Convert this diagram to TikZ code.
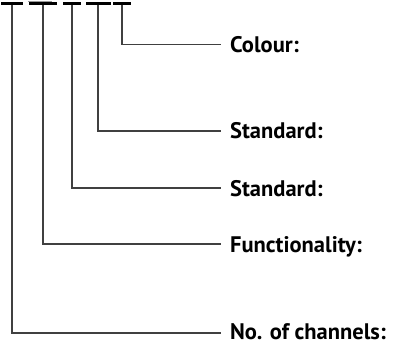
\documentclass[tikz,border=0pt]{standalone}
\usepackage{fontspec}
\setmainfont{PT Sans}
\begin{document}
\begin{tikzpicture}[x=1pt,y=-1pt,
  bar/.style={line width=3pt,black},
  lead/.style={line width=1.1pt,black!75},
  lbl/.style={anchor=base west,inner sep=0pt,font=\bfseries\fontsize{22.5}{24}\selectfont}]
\useasboundingbox (0,0) rectangle (394,345);
% top bars
\coordinate (b1a) at (1,3.5);  \coordinate (b1b) at (23,3.5);
\coordinate (b2a) at (29,3.5); \coordinate (b2b) at (57,3.5);
\coordinate (b3a) at (63,3.5); \coordinate (b3b) at (81,3.5);
\coordinate (b4a) at (86,3.5); \coordinate (b4b) at (111,3.5);
\coordinate (b5a) at (113,3.5);\coordinate (b5b) at (131,3.5);
\draw[bar] (b1a) -- (b1b);
\draw[bar] (b2a) -- (b2b);
\draw[bar] (b3a) -- (b3b);
\draw[bar] (b4a) -- (b4b);
\draw[bar] (b5a) -- (b5b);
\draw[line width=0.8pt,black!40] (28,1) -- (52,1);
% labels
\node[lbl] (c) at (230,52.5) {Colour:};
\node[lbl] (s1) at (230,139) {Standard:};
\node[lbl] (s2) at (230,196) {Standard:};
\node[lbl] (f) at (230,252) {Functionality:};
\node[lbl] (n) at (230,339.5) {No. of channels:};
% leaders
\coordinate (t1) at (12,5); \coordinate (t2) at (43,5); \coordinate (t3) at (72,5);
\coordinate (t4) at (98,5); \coordinate (t5) at (122,5);
\draw[lead] (t5) |- ([xshift=-9pt]c.west |- 0,44.7);
\draw[lead] (t4) |- ([xshift=-9pt]s1.west |- 0,131);
\draw[lead] (t3) |- ([xshift=-9pt]s2.west |- 0,188);
\draw[lead] (t2) |- ([xshift=-9pt]f.west |- 0,244);
\draw[lead] (t1) |- ([xshift=-9pt]n.west |- 0,333);
\end{tikzpicture}
\end{document}
